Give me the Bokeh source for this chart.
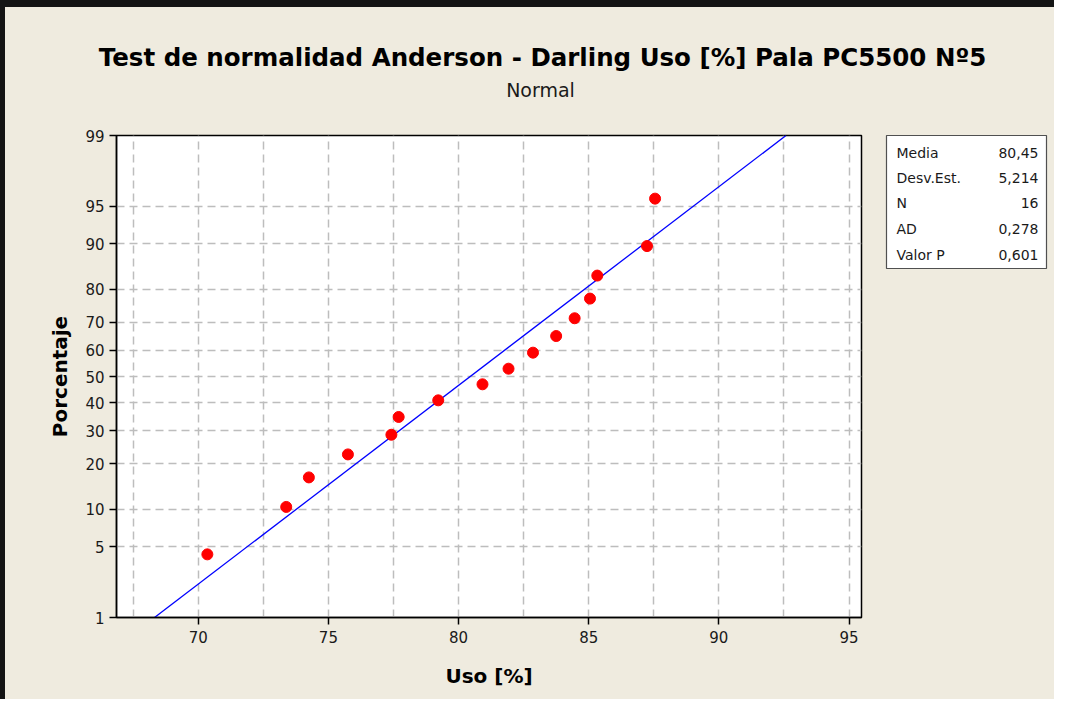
import math
from bokeh.plotting import figure
from bokeh.models import Range1d, FixedTicker
from bokeh.layouts import column, row
from bokeh.core.properties import value
from bokeh.embed import file_html
from bokeh.resources import INLINE

# ---- data ----
uso = [70.35, 73.38, 74.25, 75.75, 77.42, 77.70, 79.22, 80.92,
       81.92, 82.86, 83.75, 84.46, 85.05, 85.33, 87.24, 87.55]
porcentaje = [4.3, 10.4, 16.5, 22.6, 28.7, 34.8, 40.9, 47.0,
              53.0, 59.1, 65.2, 71.3, 77.4, 83.5, 89.6, 95.7]
y_ticks = [1, 5, 10, 20, 30, 40, 50, 60, 70, 80, 90, 95, 99]
y_grid = [5, 10, 20, 30, 40, 50, 60, 70, 80, 90, 95]
x_ticks = [70, 75, 80, 85, 90, 95]
x_grid = [67.5, 70, 72.5, 75, 77.5, 80, 82.5, 85, 87.5, 90, 92.5, 95]
x_range = (66.86, 95.48)
line_pct = [1, 99]
media = 80.45
desv = 5.214
stat_names = ["Media", "Desv.Est.", "N", "AD", "Valor P"]
stat_values = ["80,45", "5,214", "16", "0,278", "0,601"]
title_text = "Test de normalidad Anderson - Darling Uso [%] Pala PC5500 Nº5"
subtitle_text = "Normal"


def probit(p):
    """Inverse standard normal CDF (Acklam's rational approximation)."""
    a = [-3.969683028665376e+01, 2.209460984245205e+02, -2.759285104469687e+02,
         1.383577518672690e+02, -3.066479806614716e+01, 2.506628277459239e+00]
    b = [-5.447609879822406e+01, 1.615858368580409e+02, -1.556989798598866e+02,
         6.680131188771972e+01, -1.328068155288572e+01]
    c = [-7.784894002430293e-03, -3.223964580411365e-01, -2.400758277161838e+00,
         -2.549732539343734e+00, 4.374664141464968e+00, 2.938163982698783e+00]
    d = [7.784695709041462e-03, 3.224671290700398e-01, 2.445134137142996e+00,
         3.754408661907416e+00]
    plow = 0.02425
    if p < plow:
        q = math.sqrt(-2 * math.log(p))
        return (((((c[0]*q+c[1])*q+c[2])*q+c[3])*q+c[4])*q+c[5]) / \
               ((((d[0]*q+d[1])*q+d[2])*q+d[3])*q+1)
    if p > 1 - plow:
        q = math.sqrt(-2 * math.log(1 - p))
        return -(((((c[0]*q+c[1])*q+c[2])*q+c[3])*q+c[4])*q+c[5]) / \
                ((((d[0]*q+d[1])*q+d[2])*q+d[3])*q+1)
    q = p - 0.5
    r = q * q
    return (((((a[0]*r+a[1])*r+a[2])*r+a[3])*r+a[4])*r+a[5])*q / \
           (((((b[0]*r+b[1])*r+b[2])*r+b[3])*r+b[4])*r+1)


def zpos(pct):
    return probit(pct / 100.0)


BG = "#EFEBDF"
FONT = "DejaVu Sans"
EDGE_L, EDGE_T = 5, 7          # dark window edge on the left and top
TOTAL_W, TOTAL_H = 1054 - EDGE_L, 699 - EDGE_T
HEAD_H = 120 - EDGE_T


def blank(fig):
    fig.xaxis.visible = False
    fig.yaxis.visible = False
    fig.xgrid.visible = False
    fig.ygrid.visible = False


# ---------------- header (title + subtitle) ----------------
head = figure(width=TOTAL_W, height=HEAD_H, x_range=Range1d(0, TOTAL_W),
              y_range=Range1d(HEAD_H, 0), min_border=0,
              output_backend="svg", toolbar_location=None,
              background_fill_color=BG, border_fill_color=BG)
blank(head)
head.outline_line_color = None
head.text(x=[542 - EDGE_L], y=[57 - EDGE_T], text=[title_text], text_font=value(FONT),
          text_font_style="bold", text_font_size="24.5px", text_align="center",
          text_baseline="middle", text_color="black")
head.text(x=[540 - EDGE_L], y=[89 - EDGE_T], text=[subtitle_text], text_font=value(FONT),
          text_font_size="19px", text_align="center",
          text_baseline="middle", text_color="#1a1a1a")

# ---------------- main probability plot ----------------
MAIN_W = 876 - EDGE_L
BODY_H = TOTAL_H - HEAD_H
LEFT = 116 - EDGE_L
p = figure(frame_width=745, frame_height=482,
           min_border_left=LEFT, min_border_right=MAIN_W - LEFT - 745,
           min_border_top=14, min_border_bottom=BODY_H - 14 - 482,
           x_range=Range1d(*x_range),
           y_range=Range1d(zpos(y_ticks[0]), zpos(y_ticks[-1])),
           output_backend="svg", toolbar_location=None,
           background_fill_color="white", border_fill_color=BG)

p.outline_line_color = "black"
p.outline_line_width = 1.5

p.xgrid.ticker = FixedTicker(ticks=x_grid)
p.ygrid.ticker = FixedTicker(ticks=[zpos(v) for v in y_grid])
for g in (p.xgrid, p.ygrid):
    g.grid_line_color = "#bdbdbd"
    g.grid_line_width = 1.5
    g.grid_line_dash = "8 5"

p.xaxis.ticker = FixedTicker(ticks=x_ticks)
p.yaxis.ticker = FixedTicker(ticks=[zpos(v) for v in y_ticks])
p.yaxis.major_label_overrides = {zpos(v): str(v) for v in y_ticks}
for ax in (p.xaxis, p.yaxis):
    ax.axis_line_color = "black"
    ax.axis_line_width = 1.5
    ax.major_tick_line_color = "black"
    ax.major_tick_line_width = 1.5
    ax.major_tick_out = 7
    ax.major_tick_in = 0
    ax.minor_tick_line_color = None
    ax.major_label_text_font = FONT
    ax.major_label_text_font_size = "15px"
    ax.major_label_text_color = "#1a1a1a"
    ax.axis_label_text_font = FONT
    ax.axis_label_text_font_style = "bold"
    ax.axis_label_text_font_size = "20px"
    ax.axis_label_text_color = "black"
p.xaxis.axis_label = "Uso [%]"
p.yaxis.axis_label = "Porcentaje"
p.xaxis.major_label_standoff = 6
p.xaxis.axis_label_standoff = 18
p.yaxis.major_label_standoff = 5
p.yaxis.axis_label_standoff = 10

p.line([media + desv * zpos(v) for v in line_pct], [zpos(v) for v in line_pct],
       line_color="#0000ff", line_width=1.3)
p.scatter(uso, [zpos(v) for v in porcentaje], size=11,
          fill_color="#ff0000", line_color="#ff0000", marker="circle")

# ---------------- statistics box ----------------
STAT_W = TOTAL_W - MAIN_W
BOX_W, BOX_H = 160, 133
BOX_L = 886 - 876
BOX_T = 135 - 120
stats = figure(frame_width=BOX_W, frame_height=BOX_H,
               min_border_left=BOX_L, min_border_right=STAT_W - BOX_L - BOX_W,
               min_border_top=BOX_T, min_border_bottom=BODY_H - BOX_T - BOX_H,
               x_range=Range1d(0, BOX_W), y_range=Range1d(BOX_H, 0),
               output_backend="svg", toolbar_location=None,
               background_fill_color="white", border_fill_color=BG)
blank(stats)
stats.outline_line_color = "#505050"
stats.outline_line_width = 1.2
row_y = [17, 42, 67, 93, 119]
stats.text(x=[10] * len(stat_names), y=row_y, text=stat_names,
           text_font=value(FONT), text_font_size="14px", text_align="left",
           text_baseline="middle", text_color="#1a1a1a")
stats.text(x=[152] * len(stat_values), y=row_y, text=stat_values,
           text_font=value(FONT), text_font_size="14px", text_align="right",
           text_baseline="middle", text_color="#1a1a1a")

body = row(p, stats, spacing=0, styles={"background-color": BG})
layout = column(head, body, spacing=0,
                styles={"background-color": BG,
                        "border-top": f"{EDGE_T}px solid #141414",
                        "border-left": f"{EDGE_L}px solid #141414"})
open("out.html", "w").write(file_html(layout, INLINE))
